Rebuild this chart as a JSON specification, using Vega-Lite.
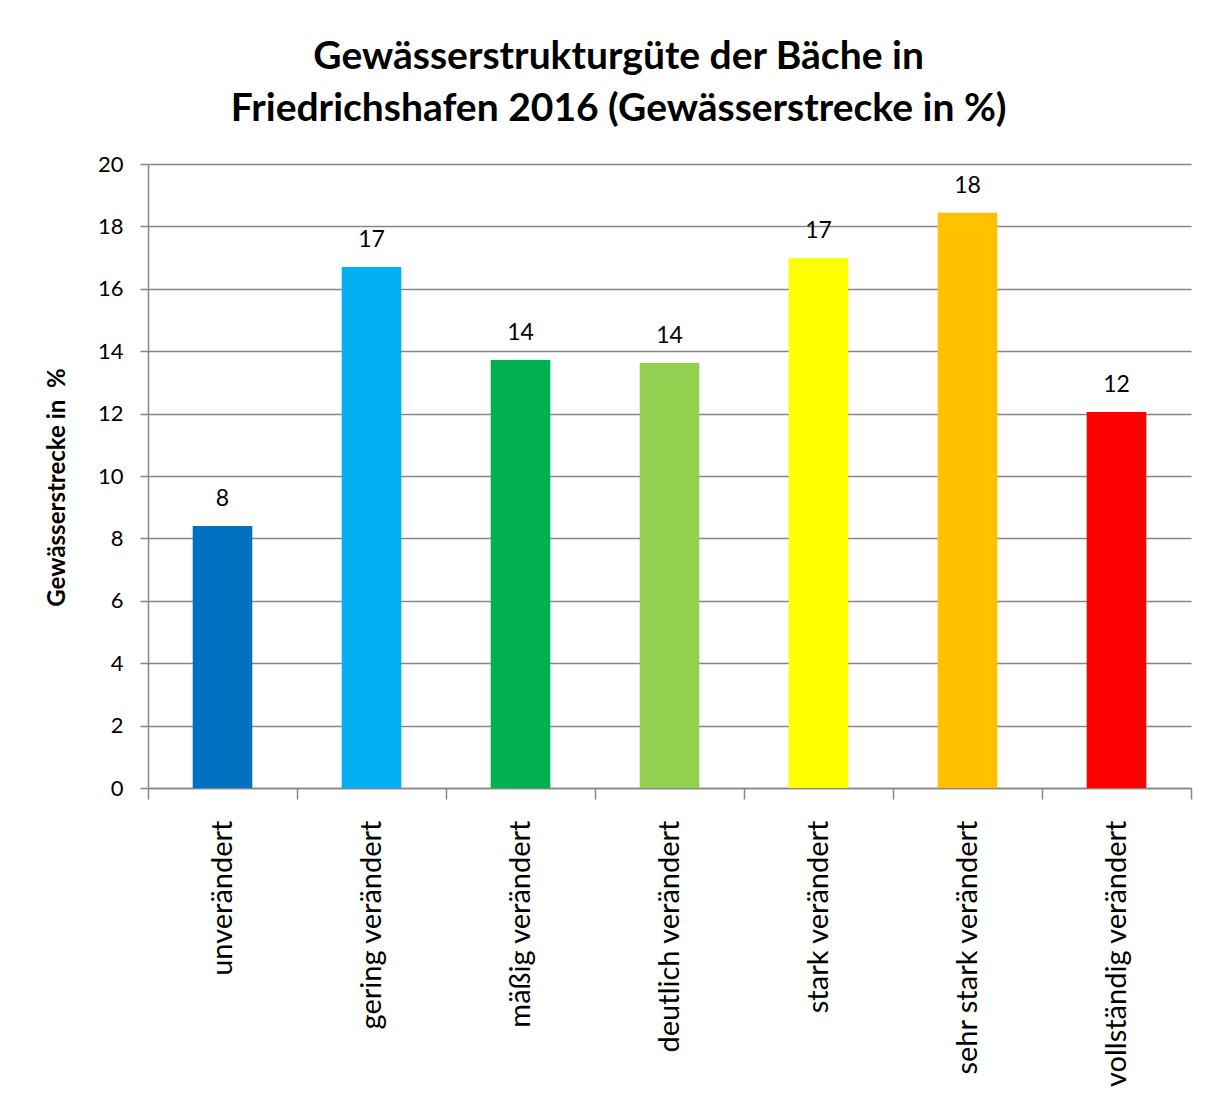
{
  "$schema": "https://vega.github.io/schema/vega-lite/v6.json",
  "width": 1043,
  "height": 624,
  "autosize": {"type": "none"},
  "padding": {"left": 148, "top": 164, "right": 25, "bottom": 327},
  "background": "white",
  "title": {
    "text": ["Gewässerstrukturgüte der Bäche in", "Friedrichshafen 2016 (Gewässerstrecke in %)"],
    "font": "Lato",
    "fontSize": 39,
    "fontWeight": "bold",
    "color": "black",
    "anchor": "middle",
    "frame": "bounds",
    "offset": 24,
    "lineHeight": 52
  },
  "data": {
    "values": [
      {"kategorie": "unverändert", "wert": 8.4},
      {"kategorie": "gering verändert", "wert": 16.7},
      {"kategorie": "mäßig verändert", "wert": 13.72},
      {"kategorie": "deutlich verändert", "wert": 13.62},
      {"kategorie": "stark verändert", "wert": 16.99},
      {"kategorie": "sehr stark verändert", "wert": 18.44},
      {"kategorie": "vollständig verändert", "wert": 12.05}
    ]
  },
  "encoding": {
    "x": {
      "field": "kategorie",
      "type": "nominal",
      "sort": null,
      "scale": {"paddingInner": 0, "paddingOuter": 0},
      "axis": {
        "title": null,
        "labelAngle": -90,
        "labelFont": "Lato",
        "labelFontSize": 29,
        "labelColor": "black",
        "labelPadding": 21,
        "labelLimit": 500,
        "tickSize": 11,
        "tickColor": "#868686",
        "tickWidth": 1.5,
        "tickBand": "extent",
        "domainColor": "#868686",
        "domainWidth": 1.5,
        "grid": false
      }
    },
    "y": {
      "field": "wert",
      "type": "quantitative",
      "scale": {"domain": [0, 20], "nice": false},
      "axis": {
        "values": [0, 2, 4, 6, 8, 10, 12, 14, 16, 18, 20],
        "grid": true,
        "gridColor": "#868686",
        "gridWidth": 1.5,
        "domainColor": "#868686",
        "domainWidth": 1.5,
        "tickColor": "#868686",
        "tickWidth": 1.5,
        "tickSize": 8,
        "labelFont": "Lato",
        "labelFontSize": 22,
        "labelColor": "black",
        "labelPadding": 17,
        "title": "Gewässerstrecke in\u00a0\u00a0%",
        "titleFont": "Lato",
        "titleFontSize": 24,
        "titleFontWeight": "bold",
        "titleColor": "black",
        "titlePadding": 28,
        "titleY": 323
      }
    }
  },
  "layer": [
    {
      "mark": {"type": "bar", "width": {"band": 0.4}},
      "encoding": {
        "color": {
          "field": "kategorie",
          "type": "nominal",
          "scale": {
            "domain": ["unverändert", "gering verändert", "mäßig verändert", "deutlich verändert", "stark verändert", "sehr stark verändert", "vollständig verändert"],
            "range": ["#0070C0", "#00B0F0", "#00B050", "#92D050", "#FFFF00", "#FFC000", "#FF0000"]
          },
          "legend": null
        }
      }
    },
    {
      "mark": {"type": "text", "dy": -27, "font": "Lato", "fontSize": 23, "color": "black"},
      "encoding": {
        "text": {"field": "wert", "type": "quantitative", "format": ".0f"}
      }
    }
  ],
  "config": {"view": {"stroke": null}}
}
